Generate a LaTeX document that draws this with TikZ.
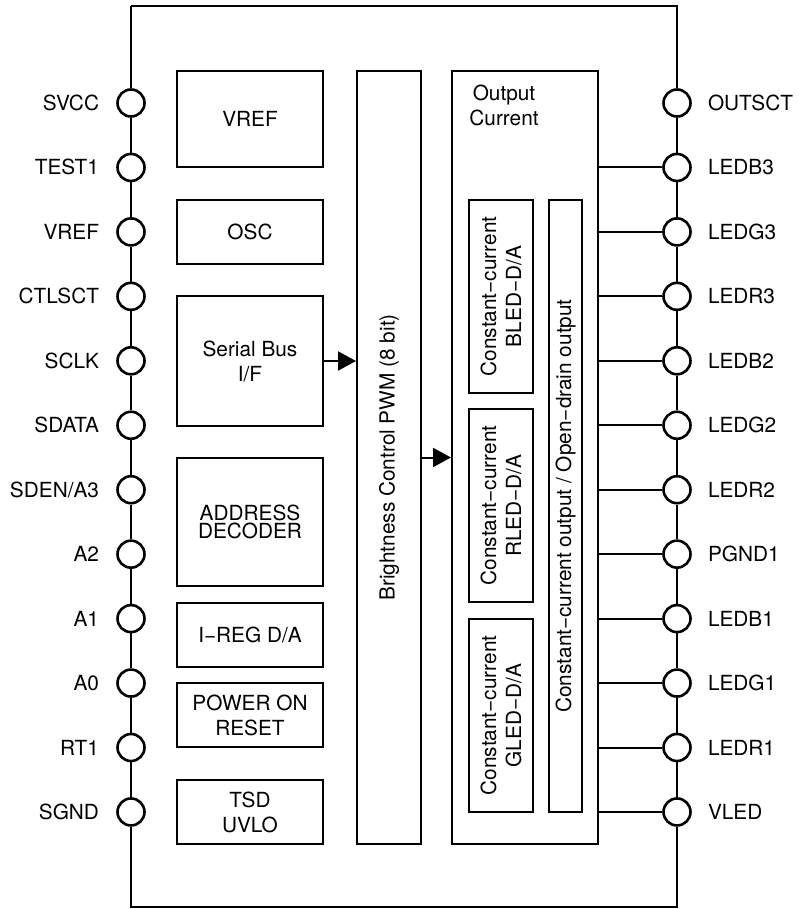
\documentclass[tikz,border=0pt]{standalone}
\usepackage{fontspec}
\setmainfont{TeX Gyre Heros}
\usetikzlibrary{arrows.meta}
\begin{document}
\begin{tikzpicture}[x=0.5pt, y=-0.5pt, line width=1pt,
    font=\fontsize{10.4}{12.5}\selectfont,
    pad/.style={circle, draw, line width=1.3pt, fill=white, minimum size=13.5pt, inner sep=0pt},
    padtxt/.style={inner sep=0pt, text height=7.5pt, text depth=0pt},
    blk/.style={draw, align=center, inner sep=0pt},
    sig/.style={-{Triangle[length=9pt, width=9.5pt]}}]
  \useasboundingbox (0,0) rectangle (798,909);
  % package outline corners
  \coordinate (tl) at (131,6);
  \coordinate (tr) at (677,6);
  \coordinate (bl) at (131,907);
  \coordinate (br) at (677,907);
  % pads, left and right
  \foreach \i/\a/\b in {1/SVCC/OUTSCT, 2/TEST1/LEDB3, 3/VREF/LEDG3, 4/CTLSCT/LEDR3,
      5/SCLK/LEDB2, 6/SDATA/LEDG2, 7/SDEN\slash A3/LEDR2, 8/A2/PGND1,
      9/A1/LEDB1, 10/A0/LEDG1, 11/RT1/LEDR1, 12/SGND/VLED} {
    \pgfmathsetmacro\py{103+64.45*(\i-1)}
    \node[pad] (l\i) at (131,\py) {};
    \node[pad] (r\i) at (677,\py) {};
    \node[padtxt, anchor=east] (lt\i) at (100,\py) {\a};
    \node[padtxt, anchor=west] (rt\i) at (707,\py) {\b};
  }
  \draw (tl) -- (l1);
  \draw (r1) -- (tr) -- (tl);
  \draw (l12) -- (bl) -- (br) -- (r12);
  \foreach \i [evaluate=\i as \j using int(\i+1)] in {1,...,11} {
    \draw (l\i) -- (l\j);
    \draw (r\i) -- (r\j);
  }

  % left column
  \node[blk, minimum width=73pt, minimum height=48pt] (vref) at (250,119) {VREF};
  \node[blk, minimum width=73pt, minimum height=32pt] (osc) at (250,232) {OSC};
  \node[blk, minimum width=73pt, minimum height=65pt] (sbus) at (250,361) {Serial Bus\\I/F};
  \node[blk, minimum width=73pt, minimum height=64pt] (adec) at (250,522) {ADDRESS\\[-3.5pt]DECODER};
  \node[blk, minimum width=73pt, minimum height=32pt] (ireg) at (250,635) {I−REG D/A};
  \node[blk, minimum width=73pt, minimum height=32pt] (por) at (250,715) {POWER ON\\RESET};
  \node[blk, minimum width=73pt, minimum height=32pt] (tsd) at (250,812) {TSD\\UVLO};

  % brightness control
  \node[blk, rotate=90, minimum width=386.5pt, minimum height=32pt] (pwm) at (389,457.5)
    {Brightness Control PWM (8 bit)};

  % output current
  \node[draw, minimum width=73pt, minimum height=386.5pt, inner sep=0pt] (out) at (525,457.5) {};
  \node[align=center, inner sep=0pt] (outtxt) at (504,105) {Output\\Current};
  \node[blk, rotate=90, minimum width=96.5pt, minimum height=32pt] (bled) at (501,296.5)
    {Constant−current\\BLED−D/A};
  \node[blk, rotate=90, minimum width=96.5pt, minimum height=32pt] (rled) at (501,505.5)
    {Constant−current\\RLED−D/A};
  \node[blk, rotate=90, minimum width=96.5pt, minimum height=32pt] (gled) at (501,715.5)
    {Constant−current\\GLED−D/A};
  \node[blk, rotate=90, minimum width=306pt, minimum height=16.5pt] (odo) at (565.5,506)
    {Constant−current output / Open−drain output};

  % signal flow
  \draw[sig] (sbus.east) -- (sbus.east -| pwm.north);
  \draw[sig] (pwm.south) -- (out.west);
  \foreach \i in {2,...,12}
    \draw (out.east |- r\i.center) -- (r\i);
\end{tikzpicture}
\end{document}
